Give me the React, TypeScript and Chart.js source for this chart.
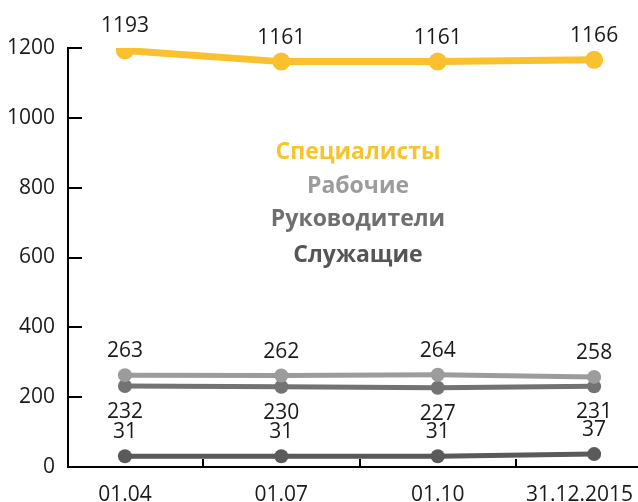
import { useEffect, useRef } from "react";
import { Chart, registerables } from "chart.js";
Chart.register(...registerables);

const categories = ["01.04", "01.07", "01.10", "31.12.2015"];
const seriesNames = ["Специалисты", "Рабочие", "Руководители", "Служащие"];
const specialists = [1193, 1161, 1161, 1166];
const workers = [263, 262, 264, 258];
const managers = [232, 230, 227, 231];
const employees = [31, 31, 31, 37];
const yTicks = [0, 200, 400, 600, 800, 1000, 1200];

const lineColors = ["#FBC02D", "#9C9C9C", "#737373", "#5A5A5A"];
const legendColors = ["#F6C42E", "#9C9C9C", "#6F6F6F", "#555555"];
const labelPositions = ["above", "above", "below", "above"];

const FONT = "'Open Sans', 'DejaVu Sans', sans-serif";

const overlayPlugin = {
  id: "overlay",
  beforeDraw(chart: any) {
    const xs = chart.scales.x;
    const items = xs.getLabelItems(chart.chartArea);
    const last = items[items.length - 1];
    if (last) {
      const { ctx } = chart;
      ctx.save();
      ctx.font = last.font.string;
      const w = ctx.measureText(String(last.label)).width;
      ctx.restore();
      const maxX = chart.width - 5 - w / 2;
      if (last.options.translation[0] > maxX) last.options.translation[0] = maxX;
    }
  },
  afterDraw(chart: any) {
    const { ctx, chartArea } = chart;
    const xs = chart.scales.x;
    const ys = chart.scales.y;
    ctx.save();
    ctx.strokeStyle = "#000";
    ctx.lineWidth = 2;
    // x axis line across to the canvas edge
    const by = Math.round(ys.getPixelForValue(0));
    ctx.beginPath();
    ctx.moveTo(chartArea.left - 1, by);
    ctx.lineTo(chart.width, by);
    ctx.stroke();
    yTicks.forEach((v) => {
      const y = Math.round(ys.getPixelForValue(v));
      ctx.beginPath();
      ctx.moveTo(chartArea.left, y);
      ctx.lineTo(chartArea.left + 14, y);
      ctx.stroke();
    });
    for (let i = 0; i < categories.length - 1; i++) {
      const x = Math.round(xs.getPixelForValue(i + 0.5));
      ctx.beginPath();
      ctx.moveTo(x, by);
      ctx.lineTo(x, by - 8);
      ctx.stroke();
    }
    ctx.font = `21px ${FONT}`;
    ctx.fillStyle = "#1a1a1a";
    ctx.textAlign = "center";
    ctx.textBaseline = "middle";
    chart.data.datasets.forEach((ds: any, di: number) => {
      const meta = chart.getDatasetMeta(di);
      meta.data.forEach((pt: any, i: number) => {
        const v = ds.data[i].y;
        const off = labelPositions[di] === "above" ? -24 : 26;
        ctx.fillText(String(v), pt.x, pt.y + off);
      });
    });
    ctx.font = `bold 23px ${FONT}`;
    const cx = 358;
    const ly = [152, 186, 219, 255];
    seriesNames.forEach((name, i) => {
      ctx.fillStyle = legendColors[i];
      ctx.fillText(name, cx, ly[i]);
    });
    ctx.restore();
  },
};

export default function App() {
  const ref = useRef<HTMLCanvasElement>(null);
  useEffect(() => {
    const series = [specialists, workers, managers, employees];
    const chart = new Chart(ref.current!, {
      type: "line",
      data: {
        datasets: series.map((vals, di) => ({
          label: seriesNames[di],
          data: vals.map((v, i) => ({ x: i, y: v })),
          borderColor: lineColors[di],
          backgroundColor: lineColors[di],
          pointBackgroundColor: lineColors[di],
          pointBorderWidth: 0,
          pointRadius: di === 0 ? 9 : 7,
          borderWidth: di === 0 ? 7 : 5,
          tension: 0,
        })),
      },
      options: {
        animation: false,
        responsive: true,
        maintainAspectRatio: false,
        layout: { padding: { top: 48, left: 0, right: 0, bottom: 0 } },
        plugins: { legend: { display: false }, tooltip: { enabled: false } },
        scales: {
          x: {
            type: "linear",
            min: -0.364,
            max: 3.223,
            grid: { display: false, drawTicks: false },
            border: { display: false },
            afterBuildTicks: (scale: any) => {
              scale.ticks = categories.map((_, i) => ({ value: i }));
            },
            afterFit: (scale: any) => {
              scale.paddingLeft = 0;
              scale.paddingRight = 0;
              scale.height = 35;
            },
            ticks: {
              padding: 15,
              color: "#1a1a1a",
              font: { family: FONT, size: 21 },
              maxRotation: 0,
              autoSkip: false,
              callback: (v: any) => categories[v as number] ?? "",
            },
          },
          y: {
            min: 0,
            max: 1200,
            grid: { display: false, drawTicks: false },
            border: { display: true, color: "#000", width: 2 },
            afterFit: (scale: any) => {
              scale.width = 68;
            },
            ticks: {
              stepSize: 200,
              padding: 13,
              color: "#1a1a1a",
              font: { family: FONT, size: 21 },
              callback: (v: any) => String(v),
            },
          },
        },
      },
      plugins: [overlayPlugin],
    });
    return () => chart.destroy();
  }, []);
  return (
    <div style={{ position: "absolute", left: 0, top: 0, width: 638, height: 502 }}>
      <canvas ref={ref} />
    </div>
  );
}
